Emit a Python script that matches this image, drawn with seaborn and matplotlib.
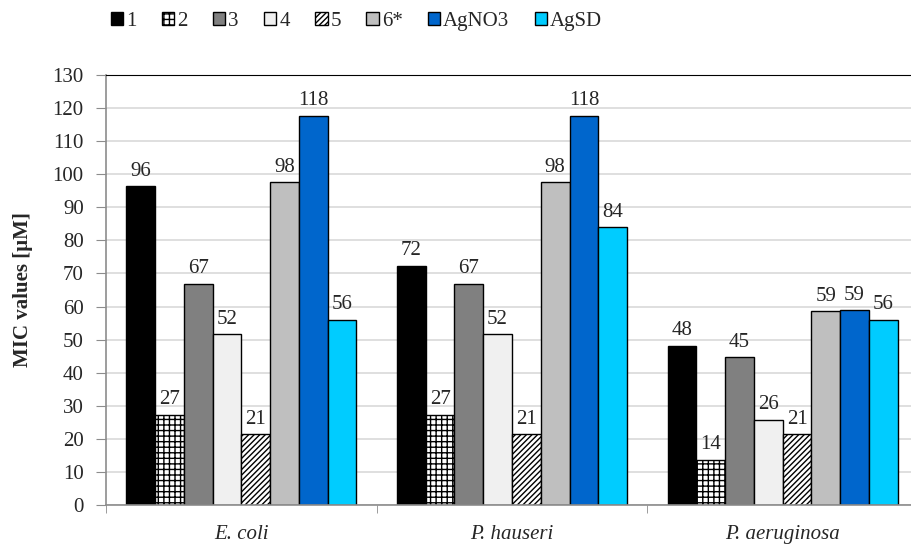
import pandas as pd
import numpy as np
import matplotlib.pyplot as plt
import seaborn as sns

# 数据
strains = ['E. coli', 'P. hauseri', 'P. aeruginosa']
compounds = ['1', '2', '3', '4', '5', '6*', 'AgNO3', 'AgSD']
mic_ecoli = [96.4, 27.2, 66.9, 51.6, 21.4, 97.6, 117.6, 56.0]
mic_phauseri = [72.3, 27.2, 66.9, 51.6, 21.4, 97.6, 117.6, 84.0]
mic_paerug = [48.2, 13.6, 44.6, 25.8, 21.4, 58.6, 58.9, 56.0]
colors = ['#000000', '#FFFFFF', '#808080', '#F0F0F0', '#FFFFFF', '#BFBFBF', '#0066CC', '#00CCFF']
hatches = ['', '+++', '', '', '//////', '', '', '']

sns.set_style('white')
plt.rcParams['font.family'] = ['Liberation Serif', 'DejaVu Serif']
plt.rcParams['hatch.linewidth'] = 1.0
FS = 15

rows = []
for strain, vals in zip(strains, [mic_ecoli, mic_phauseri, mic_paerug]):
    for c, v in zip(compounds, vals):
        rows.append({'strain': strain, 'compound': c, 'mic': v})
df = pd.DataFrame(rows)

fig = plt.figure(figsize=(9.12, 5.52), dpi=100)
ax = fig.add_axes([106 / 912, 47 / 552, 812 / 912, 430 / 552])

sns.barplot(data=df, x='strain', y='mic', hue='compound', order=strains,
            hue_order=compounds, palette=colors, width=0.85, ax=ax,
            edgecolor='black', linewidth=1.0, saturation=1, legend=True)

for cont, h in zip(ax.containers, hatches):
    for bar in cont:
        bar.set_hatch(h)
    ax.bar_label(cont, labels=[f'{v:.0f}' for v in cont.datavalues],
                 padding=4, fontsize=FS)

ax.set_ylim(0, 130)
ax.set_yticks(np.arange(0, 131, 10))
ax.set_xlim(-0.5, 2.5)
ax.yaxis.grid(True, color='#D9D9D9', linewidth=1.2)
ax.set_axisbelow(True)

ax.spines['right'].set_visible(False)
ax.spines['top'].set_color('#000000')
ax.spines['left'].set_color('#8C8C8C')
ax.spines['bottom'].set_color('#8C8C8C')
ax.spines['left'].set_linewidth(1.2)
ax.spines['bottom'].set_linewidth(1.2)

ax.tick_params(axis='y', which='major', left=True, length=7, color='#8C8C8C',
               labelsize=FS, pad=9)
ax.set_xticks([-0.5, 0.5, 1.5, 2.5], minor=True)
ax.tick_params(axis='x', which='minor', bottom=True, length=6, color='#8C8C8C')
ax.tick_params(axis='x', which='major', bottom=False, labelsize=FS, pad=11)
for lab in ax.get_xticklabels():
    lab.set_fontstyle('italic')

ax.set_xlabel('')
ax.set_ylabel('MIC values [μM]', fontsize=FS, fontweight='bold', labelpad=14)

handles, labels = ax.get_legend_handles_labels()
ax.get_legend().remove()
for hd, h in zip(handles, hatches):
    hd.set_hatch(h)
    hd.set_edgecolor('black')
fig.legend(handles, labels, loc='upper left', bbox_to_anchor=(92 / 912, 1.012),
           ncol=8, frameon=False, fontsize=FS, handlelength=0.6, handleheight=0.6,
           handletextpad=0.15, columnspacing=1.2)

plt.savefig('out.png', dpi=100)
plt.close()
